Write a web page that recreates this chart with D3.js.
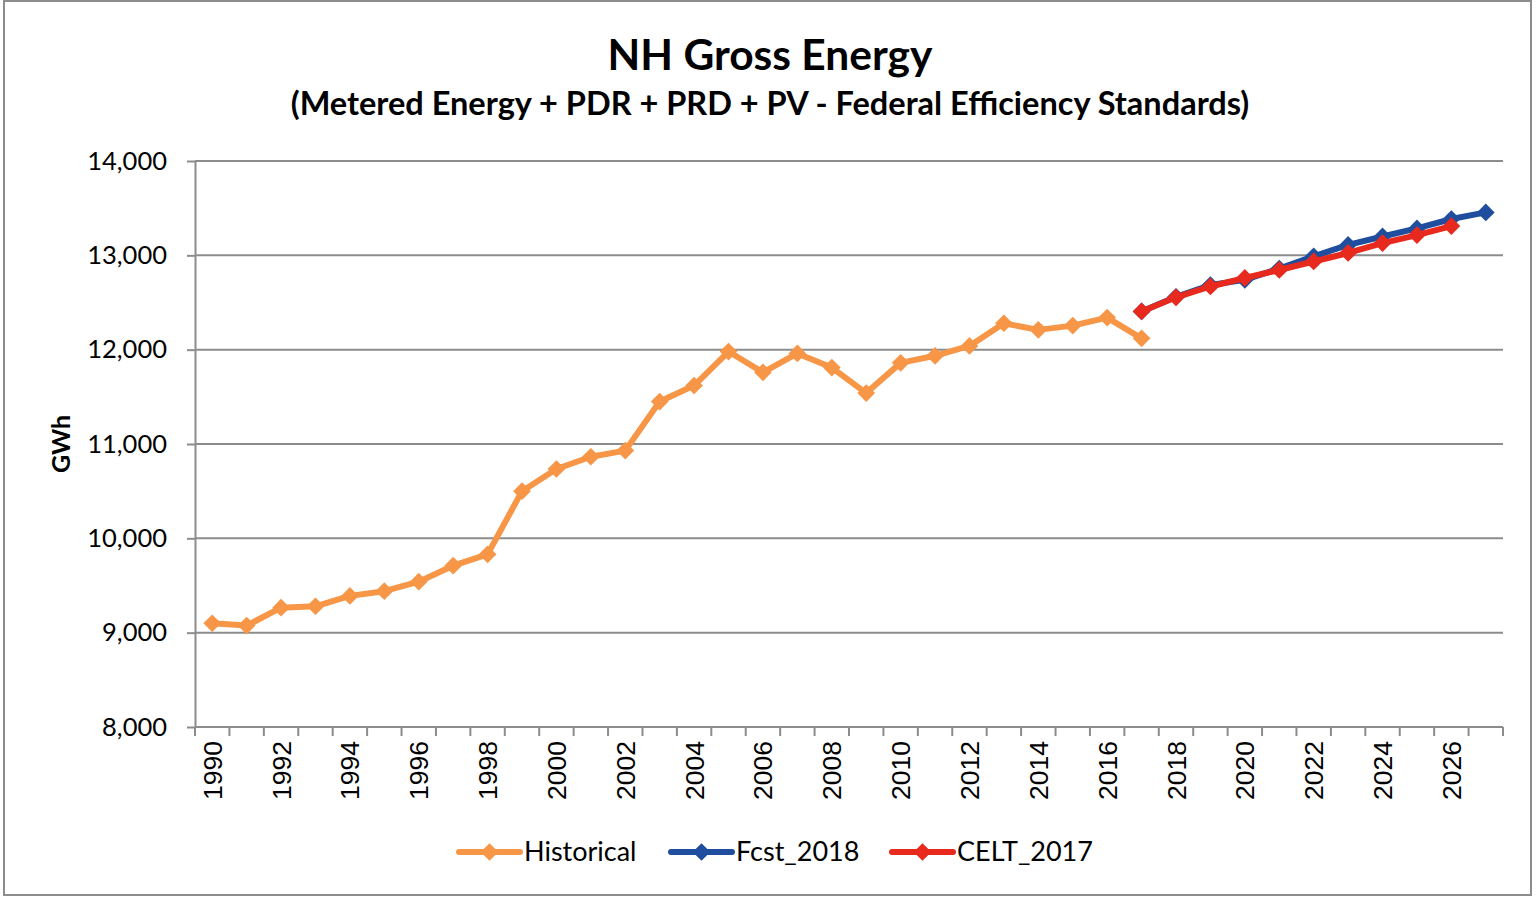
<!DOCTYPE html>
<html>
<head>
<meta charset="utf-8">
<script src="https://cdn.jsdelivr.net/npm/d3@7"></script>
<style>
  body { margin: 0; background: #fff; }
  svg { display: block; }
</style>
</head>
<body>
<div id="chart"></div>
<script>
// years on the category axis
var years = d3.range(1990, 2028);

// Historical 1990-2017
var histYears = d3.range(1990, 2018);
var historical = [9100, 9075, 9265, 9280, 9390, 9440, 9540, 9710, 9830, 10500,
  10735, 10865, 10930, 11450, 11620, 11980, 11760, 11960, 11810, 11540,
  11860, 11935, 12040, 12280, 12210, 12255, 12340, 12120];

// Fcst_2018 2017-2027
var fcstYears = d3.range(2017, 2028);
var fcst2018 = [12405, 12560, 12685, 12740, 12860, 12990, 13110, 13200, 13285, 13385, 13455];

// CELT_2017 2017-2026
var celtYears = d3.range(2017, 2027);
var celt2017 = [12405, 12555, 12670, 12760, 12845, 12935, 13025, 13130, 13215, 13310];

var yTicks = [8000, 9000, 10000, 11000, 12000, 13000, 14000];

var W = 1536, H = 898;
var margin = {top: 161, right: 33, bottom: 171, left: 195};

var svg = d3.select("#chart")
  .append("svg")
  .attr("width", W)
  .attr("height", H);

// chart border
svg.append("rect")
  .attr("x", 4).attr("y", 1)
  .attr("width", 1527).attr("height", 894)
  .attr("fill", "#fff")
  .attr("stroke", "#8c8c8c")
  .attr("stroke-width", 2);

var x = d3.scaleBand()
  .domain(years)
  .range([margin.left, W - margin.right])
  .padding(0);

var y = d3.scaleLinear()
  .domain([8000, 14000])
  .range([H - margin.bottom, margin.top]);

// title
svg.append("text")
  .attr("x", 770).attr("y", 70)
  .attr("text-anchor", "middle")
  .style("font-family", "Lato, 'Open Sans', sans-serif")
  .style("font-weight", "bold")
  .style("font-size", "42.5px")
  .text("NH Gross Energy");

svg.append("text")
  .attr("x", 770).attr("y", 115)
  .attr("text-anchor", "middle")
  .style("font-family", "Lato, 'Open Sans', sans-serif")
  .style("font-weight", "bold")
  .style("font-size", "32.5px")
  .text("(Metered Energy + PDR + PRD + PV - Federal Efficiency Standards)");

// gridlines
svg.append("g")
  .selectAll("line")
  .data(yTicks.slice(1))
  .enter()
  .append("line")
  .attr("x1", margin.left)
  .attr("x2", W - margin.right)
  .attr("y1", d => y(d))
  .attr("y2", d => y(d))
  .attr("stroke", "#8c8c8c")
  .attr("stroke-width", 2);

// Y axis
var yAxis = svg.append("g")
  .attr("transform", "translate(" + margin.left + ",0)")
  .call(d3.axisLeft(y).tickValues(yTicks).tickSizeInner(8).tickSizeOuter(0).tickPadding(20).tickFormat(d3.format(",")));
yAxis.select(".domain").attr("stroke", "#8c8c8c").attr("stroke-width", 2);
yAxis.selectAll(".tick line").attr("stroke", "#8c8c8c").attr("stroke-width", 2);
yAxis.selectAll("text")
  .style("font-family", "Lato, 'Open Sans', sans-serif")
  .style("font-size", "25.5px")
  .attr("fill", "#000");

// X axis: ticks at category boundaries
var xg = svg.append("g")
  .attr("transform", "translate(0," + y(8000) + ")");
xg.append("line")
  .attr("x1", margin.left).attr("x2", W - margin.right)
  .attr("stroke", "#8c8c8c").attr("stroke-width", 2);
xg.selectAll(".xt")
  .data(years.concat([2028]))
  .enter()
  .append("line")
  .attr("class", "xt")
  .attr("x1", d => d === 2028 ? W - margin.right : x(d))
  .attr("x2", d => d === 2028 ? W - margin.right : x(d))
  .attr("y1", 0).attr("y2", 9)
  .attr("stroke", "#8c8c8c").attr("stroke-width", 2);
xg.selectAll(".xl")
  .data(years.filter(d => d % 2 === 0))
  .enter()
  .append("text")
  .attr("class", "xl")
  .attr("transform", d => "translate(" + (x(d) + x.bandwidth() / 2 + 9.5) + ",14) rotate(-90)")
  .attr("text-anchor", "end")
  .style("font-family", "'Liberation Sans', Arial, sans-serif")
  .style("font-size", "26.5px")
  .text(d => d);

// Y axis title
svg.append("text")
  .attr("transform", "translate(70," + y(11000) + ") rotate(-90)")
  .attr("text-anchor", "middle")
  .style("font-family", "Lato, 'Open Sans', sans-serif")
  .style("font-weight", "bold")
  .style("font-size", "25px")
  .text("GWh");

var cx = d => x(d) + x.bandwidth() / 2;

var series = [
  {name: "Historical", yrs: histYears, vals: historical, color: "#F79646"},
  {name: "Fcst_2018", yrs: fcstYears, vals: fcst2018, color: "#1F4E9E"},
  {name: "CELT_2017", yrs: celtYears, vals: celt2017, color: "#E8291E"}
];

var diamond = d3.symbol().type(d3.symbolDiamond2).size(200);

var line = d3.line()
  .x(d => cx(d.yr))
  .y(d => y(d.v));

series.forEach(function(s) {
  var pts = s.yrs.map((yr, i) => ({yr: yr, v: s.vals[i]}));
  svg.append("path")
    .datum(pts)
    .attr("d", line)
    .attr("fill", "none")
    .attr("stroke", s.color)
    .attr("stroke-width", 6)
    .attr("stroke-linejoin", "round");
  svg.append("g")
    .selectAll("path")
    .data(pts)
    .enter()
    .append("path")
    .attr("d", diamond)
    .attr("transform", d => "translate(" + cx(d.yr) + "," + y(d.v) + ")")
    .attr("fill", s.color);
});

// legend
var legendX = [459, 671, 892];
var lg = svg.append("g");
series.forEach(function(s, i) {
  var g = lg.append("g").attr("transform", "translate(" + legendX[i] + ",852)");
  g.append("line")
    .attr("x1", 0).attr("x2", 61)
    .attr("stroke", s.color).attr("stroke-width", 6)
    .attr("stroke-linecap", "round");
  g.append("path")
    .attr("d", diamond)
    .attr("transform", "translate(30.5,0)")
    .attr("fill", s.color);
  g.append("text")
    .attr("x", 65).attr("y", 9)
    .style("font-family", "Lato, 'Open Sans', sans-serif")
    .style("font-size", "27px")
    .text(s.name);
});
</script>
</body>
</html>
